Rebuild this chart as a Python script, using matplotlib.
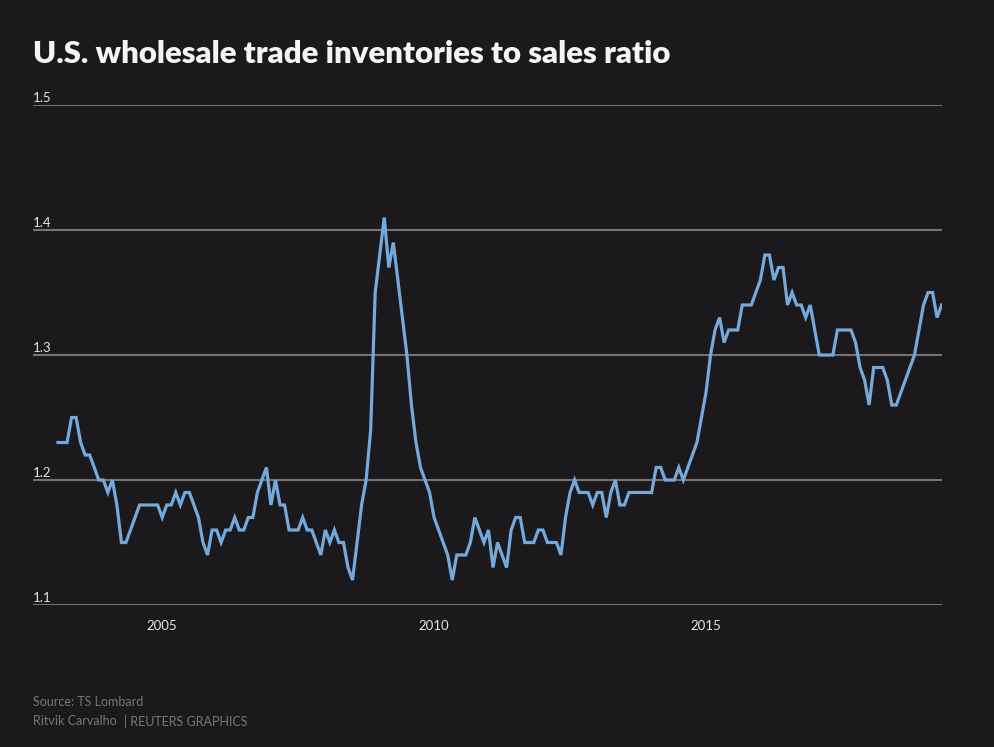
import matplotlib
matplotlib.use("Agg")
import matplotlib.pyplot as plt
import matplotlib.transforms as mtransforms

# ---- data: monthly ratio, Feb 2003 .. May 2019 ----
start_year = 2003
start_month = 2
ratio = [
    1.23, 1.23, 1.23, 1.25, 1.25, 1.23, 1.22, 1.22, 1.21, 1.20, 1.20,  # 2003 Feb-Dec
    1.19, 1.20, 1.18, 1.15, 1.15, 1.16, 1.17, 1.18, 1.18, 1.18, 1.18, 1.18,  # 2004
    1.17, 1.18, 1.18, 1.19, 1.18, 1.19, 1.19, 1.18, 1.17, 1.15, 1.14, 1.16,  # 2005
    1.16, 1.15, 1.16, 1.16, 1.17, 1.16, 1.16, 1.17, 1.17, 1.19, 1.20, 1.21,  # 2006
    1.18, 1.20, 1.18, 1.18, 1.16, 1.16, 1.16, 1.17, 1.16, 1.16, 1.15, 1.14,  # 2007
    1.16, 1.15, 1.16, 1.15, 1.15, 1.13, 1.12, 1.15, 1.18, 1.20, 1.24, 1.35,  # 2008
    1.38, 1.41, 1.37, 1.39, 1.36, 1.33, 1.30, 1.26, 1.23, 1.21, 1.20, 1.19,  # 2009
    1.17, 1.16, 1.15, 1.14, 1.12, 1.14, 1.14, 1.14, 1.15, 1.17, 1.16, 1.15,  # 2010
    1.16, 1.13, 1.15, 1.14, 1.13, 1.16, 1.17, 1.17, 1.15, 1.15, 1.15, 1.16,  # 2011
    1.16, 1.15, 1.15, 1.15, 1.14, 1.17, 1.19, 1.20, 1.19, 1.19, 1.19, 1.18,  # 2012
    1.19, 1.19, 1.17, 1.19, 1.20, 1.18, 1.18, 1.19, 1.19, 1.19, 1.19, 1.19,  # 2013
    1.19, 1.21, 1.21, 1.20, 1.20, 1.20, 1.21, 1.20, 1.21, 1.22, 1.23, 1.25,  # 2014
    1.27, 1.30, 1.32, 1.33, 1.31, 1.32, 1.32, 1.32, 1.34, 1.34, 1.34, 1.35,  # 2015
    1.36, 1.38, 1.38, 1.36, 1.37, 1.37, 1.34, 1.35, 1.34, 1.34, 1.33, 1.34,  # 2016
    1.32, 1.30, 1.30, 1.30, 1.30, 1.32, 1.32, 1.32, 1.32, 1.31, 1.29, 1.28,  # 2017
    1.26, 1.29, 1.29, 1.29, 1.28, 1.26, 1.26, 1.27, 1.28, 1.29, 1.30, 1.32,  # 2018
    1.34, 1.35, 1.35, 1.33, 1.34,  # 2019 Jan-May
]
x_ticks = [2005, 2010, 2015]
x_tick_labels = ["2005", "2010", "2015"]
y_ticks = [1.1, 1.2, 1.3, 1.4, 1.5]
y_tick_labels = ["1.1", "1.2", "1.3", "1.4", "1.5"]

title = "U.S. wholesale trade inventories to sales ratio"
source = "Source: TS Lombard"
credit_name = "Ritvik Carvalho"
credit_org = "| REUTERS GRAPHICS"

# decimal-year positions for each month
t = [start_year + (start_month - 1 + i) / 12.0 for i in range(len(ratio))]

BG = "#1b191c"
LINE = "#74a9dc"
GRID = "#747474"
TXT = "#e6e6e6"
FOOT = "#77767a"
FONT = ["Lato", "DejaVu Sans"]

W, H = 994, 747
fig = plt.figure(figsize=(W / 100, H / 100), dpi=100, facecolor=BG)

L, R, T, B = 33, 942, 105, 605
ax = fig.add_axes([L / W, 1 - B / H, (R - L) / W, (B - T) / H], facecolor=BG)

ax.plot(t, ratio, color=LINE, lw=2.3, solid_joinstyle="miter", zorder=3)

ax.set_ylim(1.1, 1.5)
ax.set_xlim(2002.624, 2019.34)

for yv in y_ticks:
    ax.axhline(yv, color=GRID, lw=1.5, zorder=1)

for s in ax.spines.values():
    s.set_visible(False)

ax.set_yticks([])
ax.set_xticks(x_ticks)
ax.set_xticklabels(x_tick_labels, fontsize=9.5, color=TXT, family=FONT)
ax.tick_params(axis="x", length=0, pad=11)

trans = mtransforms.offset_copy(ax.get_yaxis_transform(), fig=fig, x=0, y=0.6, units="points")
for yv, lab in zip(y_ticks, y_tick_labels):
    ax.text(0, yv, lab, transform=trans, ha="left", va="bottom",
            fontsize=9.5, color=TXT, family=FONT)

fig.text(L / W, 1 - 63 / H, title, ha="left", va="baseline", fontsize=22.4,
         fontweight="heavy", color="#f5f5f5", family=FONT)

fig.text(L / W, 1 - 702 / H, source, ha="left", va="center", fontsize=9,
         color=FOOT, family=FONT)
fig.text(L / W, 1 - 721 / H, credit_name, ha="left", va="center", fontsize=9,
         color=FOOT, family=FONT)
fig.text(124 / W, 1 - 721 / H, credit_org, ha="left", va="center", fontsize=9,
         color=FOOT, family=FONT)

fig.savefig("out.png", dpi=100, facecolor=BG)
